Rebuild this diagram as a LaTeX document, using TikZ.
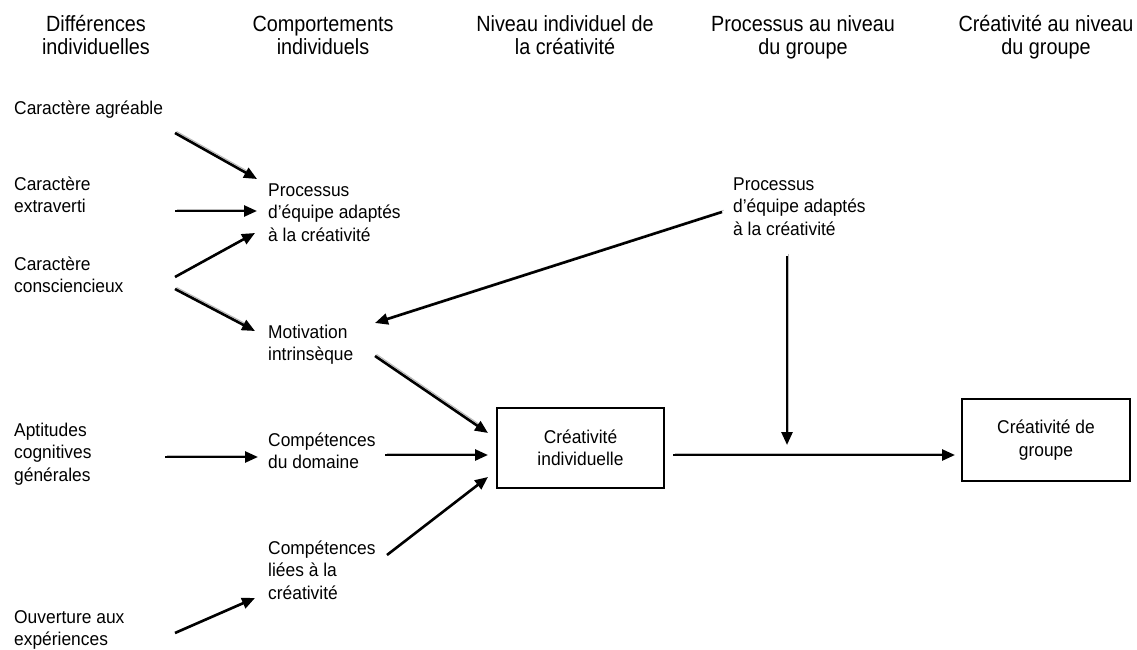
\documentclass[tikz,border=0pt]{standalone}
\usepackage{fontspec}
\setmainfont{Liberation Sans}[FakeStretch=0.94]
\newfontfamily\hdrfamily{Liberation Sans}[FakeStretch=0.9]
\usetikzlibrary{arrows.meta}
\begin{document}
\begin{tikzpicture}[x=1pt,y=-1pt,
  txt/.style={anchor=base west, inner sep=0pt, align=left, font=\fontsize{18.5}{22.5}\selectfont},
  hdr/.style={anchor=base, inner sep=0pt, align=center, font=\hdrfamily\fontsize{22}{23}\selectfont},
  box/.style={draw, line width=1.3pt, inner sep=0pt, align=center, font=\fontsize{18.5}{22.5}\selectfont},
  arr/.style={line width=2.6pt, -{Triangle[length=13pt,width=11pt]},
    preaction={draw=gray!55, line width=1pt, arrows=-, shorten >=6pt,
      transform canvas={shift={(1.6pt,1.6pt)}}}}]
\useasboundingbox (0,0) rectangle (1137,650);
% headers (anchor = baseline of the last line)
\node[hdr] (h1) at (96,55) {Différences\\individuelles};
\node[hdr] (h2) at (323,55) {Comportements\\individuels};
\node[hdr] (h3) at (565,55) {Niveau individuel de\\la créativité};
\node[hdr] (h4) at (803,55) {Processus au niveau\\du groupe};
\node[hdr] (h5) at (1046,55) {Créativité au niveau\\du groupe};
% left column
\node[txt] (agr) at (14,115) {Caractère agréable};
\node[txt] (ext) at (14,212.5) {Caractère\\extraverti};
\node[txt] (con) at (14,292.5) {Caractère\\consciencieux};
\node[txt] (apt) at (14,481) {Aptitudes\\cognitives\\générales};
\node[txt] (ouv) at (14,645.5) {Ouverture aux\\expériences};
% second column
\node[txt] (proc) at (268,241) {Processus\\d’équipe adaptés\\à la créativité};
\node[txt] (mot) at (268,360.5) {Motivation\\intrinsèque};
\node[txt] (dom) at (268,468.5) {Compétences\\du domaine};
\node[txt] (comp) at (268,599) {Compétences\\liées à la\\créativité};
% group level
\node[txt] (gproc) at (733,235) {Processus\\d’équipe adaptés\\à la créativité};
% boxes
\node[box, minimum width=167pt, minimum height=80pt] (ci) at (580.5,448) {Créativité\\individuelle};
\node[box, minimum width=168pt, minimum height=82pt] (cg) at (1046,440) {Créativité de\\groupe};
% connector end points
\coordinate (agrO) at (175,133);  \coordinate (procI1) at (257,179);
\coordinate (extO) at (175,211);  \coordinate (procI2) at (257,211);
\coordinate (conO1) at (175,277); \coordinate (procI3) at (255,233);
\coordinate (conO2) at (175,289); \coordinate (motI1) at (255,331);
\coordinate (gprocO1) at (722,212); \coordinate (motI2) at (375,323);
\coordinate (motO) at (375,356);  \coordinate (ciI1) at (488,433);
\coordinate (domO) at (385,455);  \coordinate (ciI2) at (488,455);
\coordinate (compO) at (387,555); \coordinate (ciI3) at (488,477);
\coordinate (aptO) at (165,457);  \coordinate (domI) at (258,457);
\coordinate (ouvO) at (175,633);  \coordinate (compI) at (255,598);
\coordinate (gprocO2) at (787,256); \coordinate (mod) at (787,445);
\coordinate (ciO) at (673,455);   \coordinate (cgI) at (955,455);
% connectors
\draw[arr] (agrO) -- (procI1);
\draw[arr] (extO) -- (procI2);
\draw[arr] (conO1) -- (procI3);
\draw[arr] (conO2) -- (motI1);
\draw[arr] (gprocO1) -- (motI2);
\draw[arr] (motO) -- (ciI1);
\draw[arr] (domO) -- (ciI2);
\draw[arr] (compO) -- (ciI3);
\draw[arr] (aptO) -- (domI);
\draw[arr] (ouvO) -- (compI);
\draw[arr] (gprocO2) -- (mod);
\draw[arr] (ciO) -- (cgI);
\end{tikzpicture}
\end{document}
